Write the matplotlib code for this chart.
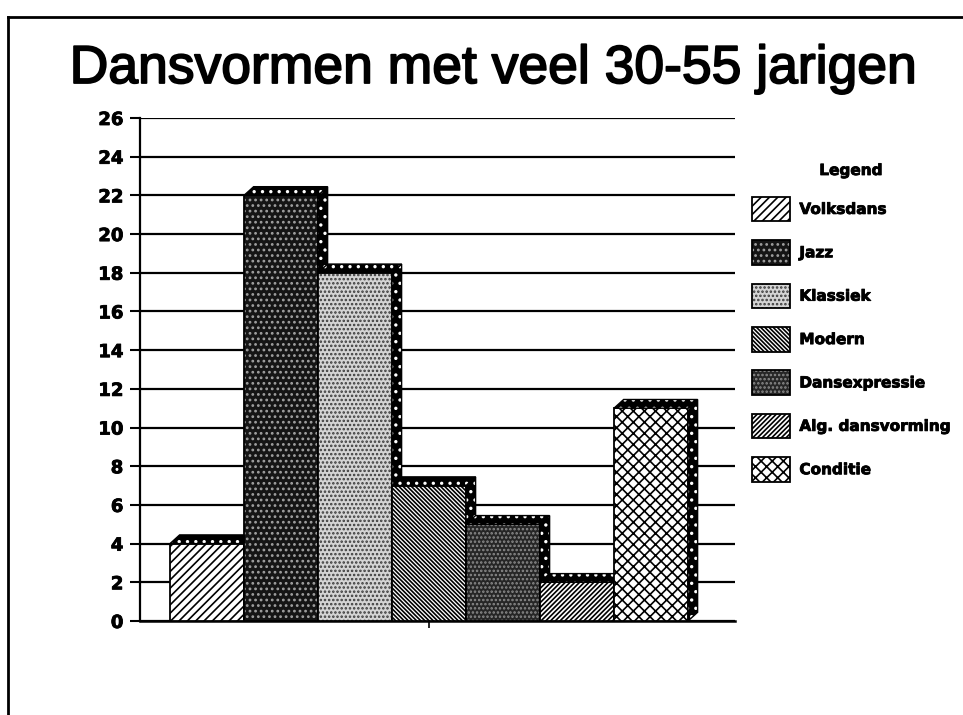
import numpy as np
import matplotlib
matplotlib.use('Agg')
import matplotlib.pyplot as plt
import matplotlib.patheffects as pe
from matplotlib.patches import Patch, Polygon
from matplotlib.lines import Line2D

titel = 'Dansvormen met veel 30-55 jarigen'
dansvormen = ['Volksdans', 'Jazz', 'Klassiek', 'Modern', 'Dansexpressie',
              'Alg. dansvorming', 'Conditie']
aantallen = [4, 22, 18, 7, 5, 2, 11]
y_ticks = list(range(0, 27, 2))

# face colour, hatch, hatch colour (fake halftone of the scan)
stijlen = [
    ('white', '////', 'black'),
    ('#151515', '...', '#a0a0a0'),
    ('#d4d4d4', '....', '#3a3a3a'),
    ('white', '\\' * 8, 'black'),
    ('#262626', '....', '#8c8c8c'),
    ('white', '/' * 7, 'black'),
    ('white', 'xxx', 'black'),
]

plt.rcParams['font.family'] = ['Liberation Sans', 'DejaVu Sans']
plt.rcParams['hatch.linewidth'] = 1.2

dik = [pe.withStroke(linewidth=0.6, foreground='black')]
zwaar = dict(family='DejaVu Sans', weight='bold', size=11)

W, H = 963, 715
fig = plt.figure(figsize=(W / 100, H / 100), dpi=100)
fig.patch.set_facecolor('white')

ax = fig.add_axes([140 / W, 1 - 621 / H, (735 - 140) / W, (621 - 118) / H])
ax.set_axisbelow(True)

# depth of the fake 3d caps (data units)
dx, dy = 0.13, 0.45

x = np.arange(len(aantallen)) + 0.5
for i, h in enumerate(aantallen):
    face, hatch, hc = stijlen[i]
    ax.bar(x[i], h, width=1, color=face, edgecolor=hc, hatch=hatch,
           linewidth=0, zorder=3)
    ax.bar(x[i], h, width=1, fill=False, edgecolor='black', linewidth=1.3,
           zorder=3)
    x0, x1 = x[i] - 0.5, x[i] + 0.5
    side = [(x1, 0), (x1 + dx, dy), (x1 + dx, h + dy), (x1, h)]
    top = [(x0, h), (x0 + dx, h + dy), (x1 + dx, h + dy), (x1, h)]
    for pts in (side, top):
        ax.add_patch(Polygon(pts, closed=True, facecolor='black',
                             edgecolor='white', hatch='..', linewidth=0,
                             zorder=3))
        ax.add_patch(Polygon(pts, closed=True, fill=False,
                             edgecolor='black', linewidth=1.0, zorder=3))

ax.set_xlim(-30 / 74, (735 - 170) / 74)
ax.set_ylim(0, 26)
ax.set_yticks(y_ticks)
ax.set_yticklabels([str(v) for v in y_ticks], fontproperties=dict(zwaar, size=13))
for t in ax.get_yticklabels():
    t.set_path_effects(dik)
ax.set_xticks([x.mean()])
ax.set_xticklabels([''])
ax.tick_params(axis='y', direction='out', length=7, width=1.5, pad=5)
ax.tick_params(axis='x', direction='out', length=5, width=1.2)
ax.grid(axis='y', color='black', linewidth=1.6)
for s in ('top', 'right'):
    ax.spines[s].set_visible(False)
ax.spines['left'].set_linewidth(1.6)
ax.spines['bottom'].set_linewidth(1.8)

handles = [(Patch(facecolor=f, edgecolor=hc, hatch=ht, linewidth=0),
            Patch(fill=False, edgecolor='black', linewidth=1.3))
           for f, ht, hc in stijlen]
leg = ax.legend(handles, dansvormen, title='Legend', loc='upper left',
                bbox_to_anchor=(752 / W, 1 - 163 / H),
                bbox_transform=fig.transFigure, frameon=False,
                prop=zwaar, title_fontproperties=zwaar,
                handlelength=2.5, handleheight=2.1, labelspacing=1.23,
                handletextpad=0.6, borderpad=0, borderaxespad=0)
leg.get_title().set_clip_on(False)
for t in leg.get_texts() + [leg.get_title()]:
    t.set_path_effects(dik)

fig.text(494 / W, 1 - 83 / H, titel, ha='center', va='baseline', fontsize=38.5,
         path_effects=[pe.withStroke(linewidth=1.3, foreground='black')])

# frame of the scanned page
fig.add_artist(Line2D([8 / W, 1], [1 - 17 / H] * 2, color='black', lw=2))
fig.add_artist(Line2D([8 / W, 8 / W], [0, 1 - 17 / H], color='black', lw=2))

plt.savefig('out.png', dpi=100)
